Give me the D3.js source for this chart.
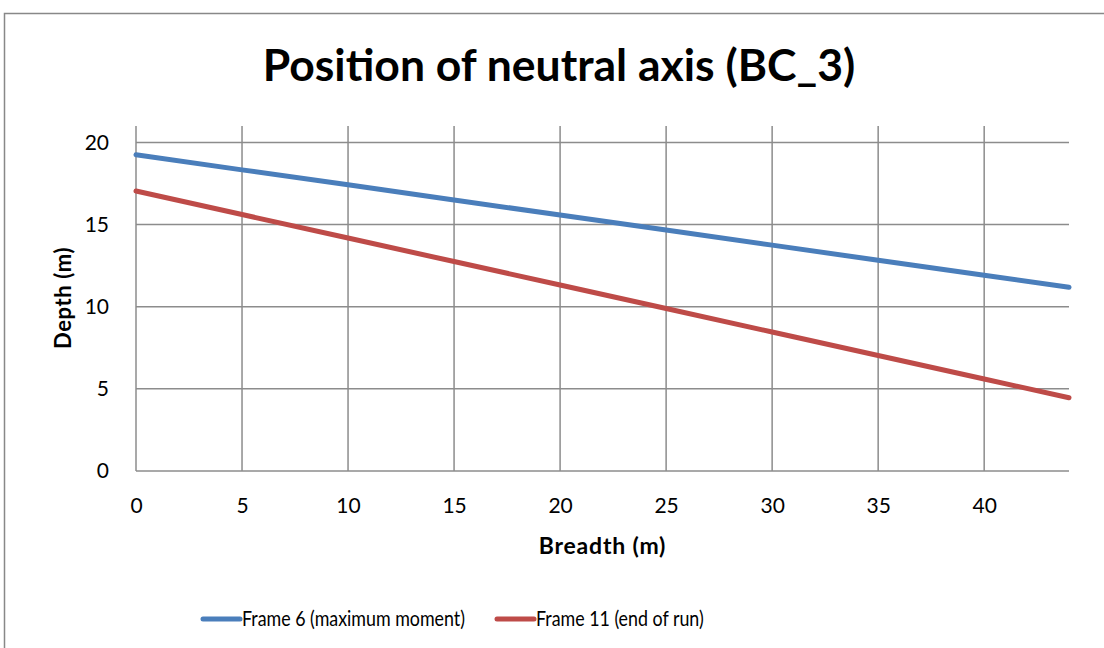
<!DOCTYPE html>
<html>
<head>
<meta charset="utf-8">
<script src="https://cdn.jsdelivr.net/npm/d3@7/dist/d3.min.js"></script>
<style>
  html, body { margin: 0; padding: 0; background: #fff; }
  svg { display: block; font-family: Lato, "Open Sans", sans-serif; }
</style>
</head>
<body>
<svg id="chart" width="1104" height="648"></svg>
<script>
// Breadth positions (m) along the section
const breadth = [0, 5, 10, 15, 20, 25, 30, 35, 40, 44];
// Depth of neutral axis (m) for each frame
const frame6 = [19.25, 18.33, 17.42, 16.50, 15.58, 14.67, 13.75, 12.83, 11.92, 11.18];
const frame11 = [17.04, 15.61, 14.18, 12.75, 11.32, 9.89, 8.46, 7.03, 5.60, 4.46];
const seriesNames = ["Frame 6 (maximum moment)", "Frame 11 (end of run)"];
const seriesColors = ["#4A7EBB", "#BE4B48"];
const xTicks = [0, 5, 10, 15, 20, 25, 30, 35, 40];
const yTicks = [0, 5, 10, 15, 20];

const svg = d3.select("#chart");
const plot = { left: 136, right: 1069, top: 126, bottom: 471 };

const x = d3.scaleLinear().domain([0, 44]).range([plot.left, plot.right]);
const y = d3.scaleLinear().domain([0, 21]).range([plot.bottom, plot.top]);

// chart frame
svg.append("rect")
  .attr("x", 4.5).attr("y", 13.5)
  .attr("width", 1200).attr("height", 800)
  .attr("fill", "#fff").attr("stroke", "#888").attr("stroke-width", 1.5);

// title
svg.append("text")
  .attr("x", 559).attr("y", 81)
  .attr("text-anchor", "middle")
  .attr("font-weight", "bold")
  .attr("font-size", 44.5)
  .text("Position of neutral axis (BC_3)");

// gridlines
const grid = svg.append("g").attr("stroke", "#8c8c8c").attr("stroke-width", 1.5);
grid.selectAll("line.v").data(xTicks).join("line")
  .attr("x1", d => x(d)).attr("x2", d => x(d))
  .attr("y1", plot.top).attr("y2", plot.bottom);
grid.selectAll("line.h").data(yTicks).join("line")
  .attr("x1", plot.left).attr("x2", plot.right)
  .attr("y1", d => y(d)).attr("y2", d => y(d));

// axes (labels only; lines come from the grid)
const xAxis = svg.append("g")
  .attr("transform", `translate(0,${plot.bottom})`)
  .call(d3.axisBottom(x).tickValues(xTicks).tickSize(0).tickPadding(27));
const yAxis = svg.append("g")
  .attr("transform", `translate(${plot.left},0)`)
  .call(d3.axisLeft(y).tickValues(yTicks).tickSize(0).tickPadding(27));
[xAxis, yAxis].forEach(a => {
  a.select(".domain").remove();
  a.selectAll("text").attr("font-size", 21).attr("fill", "#000")
    .attr("font-family", "Lato, 'Open Sans', sans-serif");
});

// axis titles
svg.append("text")
  .attr("x", x(22)).attr("y", 554)
  .attr("text-anchor", "middle")
  .attr("font-weight", "bold").attr("font-size", 23)
  .attr("letter-spacing", 0.8)
  .text("Breadth (m)");
svg.append("text")
  .attr("transform", `translate(71,298) rotate(-90)`)
  .attr("text-anchor", "middle")
  .attr("font-weight", "bold").attr("font-size", 22)
  .attr("letter-spacing", 0.6)
  .text("Depth (m)");

// series lines
const line = d3.line().x(d => x(d[0])).y(d => y(d[1]));
[frame6, frame11].forEach((vals, i) => {
  svg.append("path")
    .datum(breadth.map((b, j) => [b, vals[j]]))
    .attr("d", line)
    .attr("fill", "none")
    .attr("stroke", seriesColors[i])
    .attr("stroke-width", 5)
    .attr("stroke-linecap", "round");
});

// legend (text slightly condensed)
const legendX = [203, 497];
const legend = svg.append("g");
seriesNames.forEach((name, i) => {
  const g = legend.append("g").attr("transform", `translate(${legendX[i]},619)`);
  g.append("line")
    .attr("x1", 0).attr("x2", 37)
    .attr("stroke", seriesColors[i]).attr("stroke-width", 5)
    .attr("stroke-linecap", "round");
  g.append("text")
    .attr("transform", "translate(39,7) scale(0.87,1)")
    .attr("font-size", 20.5)
    .text(name);
});
</script>
</body>
</html>
